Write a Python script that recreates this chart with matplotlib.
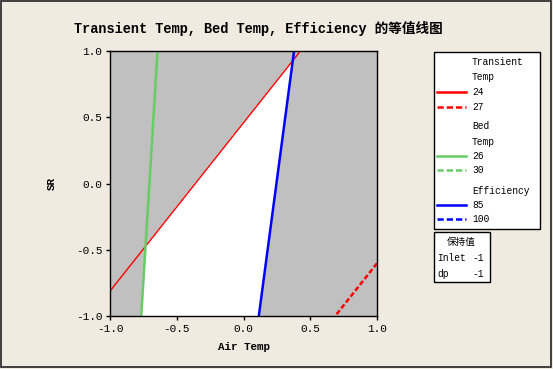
import numpy as np
import matplotlib
matplotlib.use('Agg')
import matplotlib.pyplot as plt
from matplotlib.patches import Rectangle

plt.rcParams['font.family'] = ['Liberation Mono', 'Noto Sans CJK SC']
plt.rcParams['axes.unicode_minus'] = False

# fitted planes z = b0 + b1*AirTemp + b2*SR (hold: Inlet=-1, dp=-1)
transient_coef = [24.59, 1.635, -1.287]
bed_coef = [27.41, 2.0, -0.122]
eff_coef = [86.48, -6.0, 0.792]
transient_levels = [24, 27]
bed_levels = [26, 30]
eff_levels = [85, 100]
hold_names = ['Inlet', 'dp']
hold_values = [-1, -1]
ticks = [-1.0, -0.5, 0.0, 0.5, 1.0]

bg = '#EFEBE1'
red, green, blue = '#FF0000', '#66CC66', '#0000FF'

x = np.linspace(-1, 1, 601)
X, Y = np.meshgrid(x, x)
T = transient_coef[0] + transient_coef[1] * X + transient_coef[2] * Y
B = bed_coef[0] + bed_coef[1] * X + bed_coef[2] * Y
E = eff_coef[0] + eff_coef[1] * X + eff_coef[2] * Y
ok = ((T >= transient_levels[0]) & (T <= transient_levels[1]) &
      (B >= bed_levels[0]) & (B <= bed_levels[1]) &
      (E >= eff_levels[0]) & (E <= eff_levels[1])).astype(float)

fig = plt.figure(figsize=(5.53, 3.69), dpi=100, facecolor=bg)
ax = fig.add_axes([110/553, 1-316/369, 267/553, 265/369])
ax.set_facecolor('#C0C0C0')
ax.contourf(X, Y, ok, levels=[0.5, 1.5], colors='white')
ax.contour(X, Y, T, levels=transient_levels, colors=red,
           linewidths=[1.0, 1.8], linestyles=['solid', (0, (2, 1))])
ax.contour(X, Y, B, levels=bed_levels, colors=green,
           linewidths=[1.8, 1.8], linestyles=['solid', (0, (3, 1.5))])
ax.contour(X, Y, E, levels=eff_levels, colors=blue,
           linewidths=[1.8, 1.8], linestyles=['solid', (0, (3, 1.5))])
ax.set_xlim(-1, 1)
ax.set_ylim(-1, 1)
ax.set_xticks(ticks)
ax.set_yticks(ticks)
ax.set_xticklabels(['%.1f' % t for t in ticks], fontsize=8)
ax.set_yticklabels(['%.1f' % t for t in ticks], fontsize=8)
ax.tick_params(direction='out', length=3, width=1, pad=2.5)
for s in ax.spines.values():
    s.set_linewidth(1.0)
ax.set_xlabel('Air Temp', fontsize=7.8, fontweight='bold', labelpad=6)
ax.set_ylabel('SR', fontsize=7.8, fontweight='bold', labelpad=14)

# overlay in pixel coordinates for title, legend, border
ov = fig.add_axes([0, 0, 1, 1], facecolor='none')
ov.set_xlim(0, 553)
ov.set_ylim(369, 0)
ov.axis('off')
ov.text(74, 28, 'Transient Temp, Bed Temp, Efficiency 的等值线图', fontsize=9.8,
        fontweight='bold', ha='left', va='center')

ov.add_patch(Rectangle((433.5, 51.5), 106, 177, fc='white', ec='black', lw=1))
rows = [('Transient', None, None), ('Temp', None, None),
        (str(transient_levels[0]), red, '-'), (str(transient_levels[1]), red, '--'),
        ('Bed', None, None), ('Temp', None, None),
        (str(bed_levels[0]), green, '-'), (str(bed_levels[1]), green, '--'),
        ('Efficiency', None, None),
        (str(eff_levels[0]), blue, '-'), (str(eff_levels[1]), blue, '--')]
ys = [62, 77, 92, 107, 126, 142, 156, 170, 191, 204.5, 219]
for (lab, col, ls), yy in zip(rows, ys):
    ov.text(472, yy, lab, fontsize=6.9, ha='left', va='center')
    if col:
        ov.plot([437, 466], [yy, yy], color=col, lw=1.8,
                linestyle='-' if ls == '-' else (0, (2.5, 1.2)))

ov.add_patch(Rectangle((433.5, 231.5), 56, 50, fc='white', ec='black', lw=1))
ov.text(461.5, 242, '保持值', fontsize=6.9, ha='center', va='center')
for i, (n, v) in enumerate(zip(hold_names, hold_values)):
    ov.text(437, 258 + 16 * i, n, fontsize=6.9, ha='left', va='center')
    ov.text(484, 258 + 16 * i, '%d' % v, fontsize=6.9, ha='right', va='center')

ov.add_patch(Rectangle((0.5, 0.5), 550, 366, fc='none', ec='#222222', lw=1.2))

fig.savefig('out.png', dpi=100, facecolor=bg)
